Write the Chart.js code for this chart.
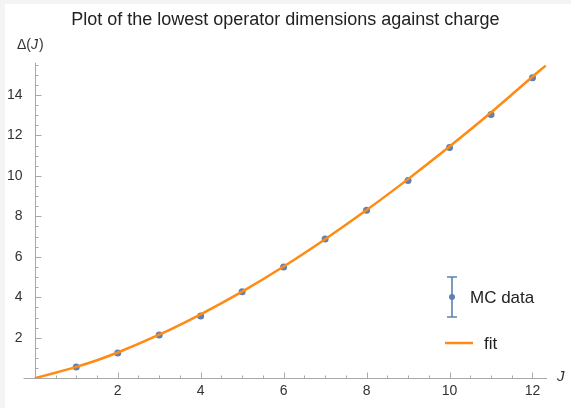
<!DOCTYPE html>
<html>
<head>
<meta charset="utf-8">
<script src="https://cdn.jsdelivr.net/npm/chart.js@4"></script>
<style>
  html, body { margin: 0; padding: 0; background: #fff; }
  #wrap { width: 571px; height: 408px; }
</style>
</head>
<body>
<div id="wrap"><canvas id="chart" width="571" height="408"></canvas></div>
<script>
// MC data points
const charges = [1, 2, 3, 4, 5, 6, 7, 8, 9, 10, 11, 12];
const dimensions = [0.55, 1.24, 2.13, 3.08, 4.27, 5.5, 6.88, 8.3, 9.77, 11.4, 13.03, 14.85];

// fit curve
const fitJ = [0, 0.5, 1, 1.5, 2, 3, 4, 5, 6, 7, 8, 9, 10, 11, 12, 12.32];
const fitDelta = [0, 0.27, 0.56, 0.89, 1.27, 2.15, 3.16, 4.28, 5.52, 6.87, 8.31, 9.84, 11.45, 13.13, 14.9, 15.45];

const xMajor = [2, 4, 6, 8, 10, 12];
const yMajor = [2, 4, 6, 8, 10, 12, 14];

const blue = '#5E81B5';
const orange = '#FF8A14';
const axisGray = '#a8a8a8';
const fontFamily = '"Liberation Sans", Arial, sans-serif';

// Mathematica-like axes through the origin, ticks pointing inward
const axesPlugin = {
  id: 'axesPlugin',
  beforeDraw(chart) {
    const ctx = chart.ctx;
    ctx.save();
    ctx.fillStyle = '#fff';
    ctx.fillRect(0, 0, chart.width, chart.height);
    ctx.fillStyle = '#f4f4f4';
    ctx.fillRect(0, 0, 5, chart.height);
    ctx.fillRect(0, 0, chart.width, 4);
    ctx.restore();
  },
  beforeDatasetsDraw(chart) {
    const { ctx, chartArea, scales: { x, y } } = chart;
    const x0 = Math.round(x.getPixelForValue(0)) + 0.5;
    const y0 = Math.round(y.getPixelForValue(0)) + 0.5;
    ctx.save();
    ctx.strokeStyle = axisGray;
    ctx.lineWidth = 1;
    ctx.beginPath();
    ctx.moveTo(chartArea.left, y0);
    ctx.lineTo(chartArea.right, y0);
    ctx.moveTo(x0, chartArea.top);
    ctx.lineTo(x0, y0);
    for (let v = 0.5; v <= 12.3; v += 0.5) {
      const px = Math.round(x.getPixelForValue(v)) + 0.5;
      const len = (v % 2 === 0) ? 6 : 3;
      ctx.moveTo(px, y0);
      ctx.lineTo(px, y0 - len);
    }
    for (let v = 0.5; v <= 15.5; v += 0.5) {
      const py = Math.round(y.getPixelForValue(v)) + 0.5;
      const len = (v % 2 === 0) ? 6 : 3;
      ctx.moveTo(x0, py);
      ctx.lineTo(x0 + len, py);
    }
    ctx.stroke();

    // axis labels
    ctx.fillStyle = '#333';
    ctx.textBaseline = 'middle';
    ctx.textAlign = 'left';
    ctx.font = '14px ' + fontFamily;
    ctx.fillText('\u0394(', 17, 45);
    const w = ctx.measureText('\u0394(').width;
    ctx.font = 'italic 14px ' + fontFamily;
    ctx.fillText('J', 17 + w, 45);
    const w2 = ctx.measureText('J').width;
    ctx.font = '14px ' + fontFamily;
    ctx.fillText(')', 17 + w + w2 + 1, 45);
    ctx.font = 'italic 15px ' + fontFamily;
    ctx.fillText('J', 557, 377);
    ctx.restore();
  },
  afterDraw(chart) {
    const ctx = chart.ctx;
    ctx.save();
    // legend: error bar icon
    ctx.strokeStyle = blue;
    ctx.lineWidth = 1.6;
    ctx.beginPath();
    ctx.moveTo(452, 277); ctx.lineTo(452, 317);
    ctx.moveTo(447, 277); ctx.lineTo(457, 277);
    ctx.moveTo(447, 317); ctx.lineTo(457, 317);
    ctx.stroke();
    ctx.fillStyle = blue;
    ctx.beginPath();
    ctx.arc(452, 297, 3, 0, Math.PI * 2);
    ctx.fill();
    // legend: fit line
    ctx.strokeStyle = orange;
    ctx.lineWidth = 2.5;
    ctx.beginPath();
    ctx.moveTo(445, 343); ctx.lineTo(473, 343);
    ctx.stroke();
    ctx.fillStyle = '#222';
    ctx.font = '17px ' + fontFamily;
    ctx.textBaseline = 'middle';
    ctx.textAlign = 'left';
    ctx.fillText('MC data', 470, 298);
    ctx.fillText('fit', 484, 344);
    ctx.restore();
  }
};

new Chart(document.getElementById('chart'), {
  type: 'scatter',
  data: {
    datasets: [
      {
        label: 'fit',
        data: fitJ.map((j, i) => ({ x: j, y: fitDelta[i] })),
        showLine: true,
        borderColor: orange,
        borderWidth: 2.5,
        pointRadius: 0,
        cubicInterpolationMode: 'monotone',
        order: 0
      },
      {
        label: 'MC data',
        data: charges.map((j, i) => ({ x: j, y: dimensions[i] })),
        backgroundColor: blue,
        borderColor: blue,
        pointRadius: 3.5,
        pointBorderWidth: 0,
        order: 1
      }
    ]
  },
  plugins: [axesPlugin],
  options: {
    responsive: false,
    animation: false,
    layout: { padding: { left: 6, right: 24, top: 0, bottom: 3 } },
    plugins: {
      legend: { display: false },
      tooltip: { enabled: false },
      title: {
        display: true,
        fullSize: false,
        text: 'Plot of the lowest operator dimensions against charge',
        color: '#222',
        font: { family: fontFamily, size: 18, weight: 'normal' },
        padding: { top: 9, bottom: 32 }
      }
    },
    scales: {
      x: {
        type: 'linear',
        min: -0.27,
        max: 12.35,
        border: { display: false },
        grid: { display: false, drawTicks: false },
        afterBuildTicks(scale) {
          scale.ticks = xMajor.map(v => ({ value: v }));
        },
        ticks: {
          color: '#333',
          padding: 5,
          font: { family: fontFamily, size: 14 },
          callback: v => v
        }
      },
      y: {
        type: 'linear',
        min: 0,
        max: 15.6,
        border: { display: false },
        grid: { display: false, drawTicks: false },
        afterBuildTicks(scale) {
          scale.ticks = yMajor.map(v => ({ value: v }));
        },
        ticks: {
          color: '#333',
          padding: 1,
          font: { family: fontFamily, size: 14 },
          callback: v => v
        }
      }
    }
  }
});
</script>
</body>
</html>
